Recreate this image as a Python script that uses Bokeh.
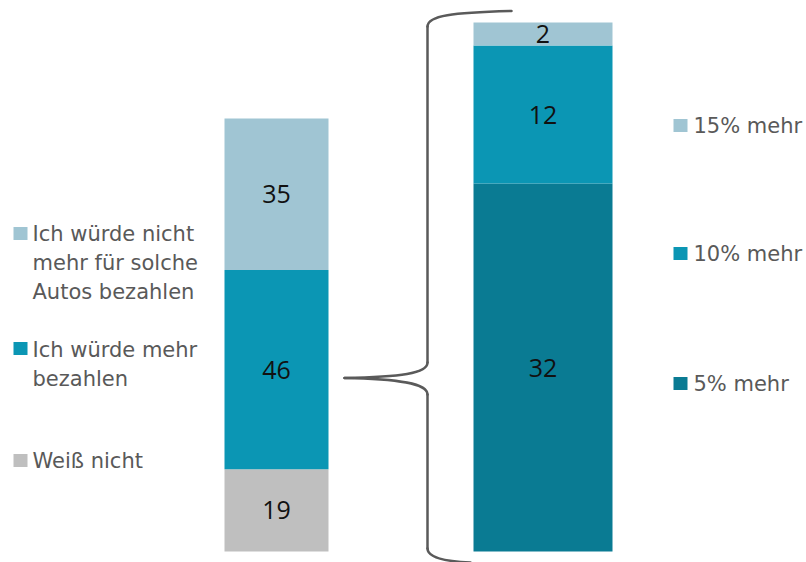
from bokeh.plotting import figure
from bokeh.models import Range1d, ColumnDataSource
from bokeh.embed import file_html
from bokeh.resources import INLINE
from bokeh.core.properties import value

# ---------------- data ----------------
main_labels = ["Weiß nicht", "Ich würde mehr\nbezahlen", "Ich würde nicht\nmehr für solche\nAutos bezahlen"]
main_values = [19, 46, 35]
main_colors = ["#BFBFBF", "#0B96B4", "#A0C5D3"]

detail_labels = ["5% mehr", "10% mehr", "15% mehr"]
detail_values = [32, 12, 2]
detail_colors = ["#0A7B93", "#0B96B4", "#A0C5D3"]

# ---------------- layout ----------------
W, H = 806, 562
OFF = 0
FRAME_BOTTOM = OFF + H
BASE_PX = 551
LEFT_TOP_PX = 118
RIGHT_TOP_PX = 22
TEXT_COLOR = "#595959"
LEG_FONT = value("DejaVu Sans")
NUM_FONT = value("Open Sans")


def data_range(total, top_px):
    k = (BASE_PX - top_px) / total
    start = -(FRAME_BOTTOM - BASE_PX) / k
    return Range1d(start, start + H / k)


p = figure(width=W, height=H, output_backend="svg", toolbar_location=None,
           x_range=Range1d(OFF, OFF + W), y_range=data_range(sum(main_values), LEFT_TOP_PX),
           x_axis_location=None, y_axis_location=None, min_border=0)
p.extra_y_ranges = {"right": data_range(sum(detail_values), RIGHT_TOP_PX),
                    "px": Range1d(FRAME_BOTTOM, OFF)}
p.grid.visible = False
p.outline_line_color = None
p.background_fill_color = "white"


def stack(vals):
    b, t, acc = [], [], 0
    for v in vals:
        b.append(acc)
        acc += v
        t.append(acc)
    return b, t


# left bar
lb, lt = stack(main_values)
lsrc = ColumnDataSource(dict(bottom=lb, top=lt, color=main_colors,
                             mid=[(a + c) / 2 for a, c in zip(lb, lt)],
                             txt=[str(v) for v in main_values]))
p.vbar(x=276, width=104, bottom="bottom", top="top", fill_color="color",
       line_color=None, source=lsrc)
p.text(x=276, y="mid", text="txt", source=lsrc, text_align="center",
       text_baseline="middle", text_font=NUM_FONT, text_font_size="25px", text_color="#111111")

# right bar
rb, rt = stack(detail_values)
rsrc = ColumnDataSource(dict(bottom=rb, top=rt, color=detail_colors,
                             mid=[(a + c) / 2 for a, c in zip(rb, rt)],
                             txt=[str(v) for v in detail_values]))
p.vbar(x=542.5, width=139, bottom="bottom", top="top", fill_color="color",
       line_color=None, source=rsrc, y_range_name="right")
p.text(x=542.5, y="mid", text="txt", source=rsrc, text_align="center",
       text_baseline="middle", text_font=NUM_FONT, text_font_size="25px",
       text_color="#111111", y_range_name="right")

# brace
BR = dict(line_color="#5A5A5A", line_width=2.5, line_cap="round", y_range_name="px")
p.bezier(x0=[511, 427, 344, 427], y0=[10.5, 362, 377.5, 548],
         x1=[427, 344, 427, 470], y1=[26, 377.5, 394, 562],
         cx0=[452, 427, 400, 427], cy0=[12, 373, 378.5, 557],
         cx1=[427, 400, 427, 445], cy1=[15, 376.5, 383, 561], **BR)
p.segment(x0=[427, 427], y0=[26, 394], x1=[427, 427], y1=[362, 548], **BR)

# left legend (top to bottom)
LINE_H = 29
left_sq_y = [460, 348, 233]
left_base_y = [460, 349, 233]
p.rect(x=20, y=left_sq_y, width=14, height=13, fill_color=main_colors,
       line_color=None, y_range_name="px")
lx, ly, ltxt = [], [], []
for lab, by in zip(main_labels, left_base_y):
    for i, line in enumerate(lab.split("\n")):
        lx.append(32)
        ly.append(by + i * LINE_H)
        ltxt.append(line)
p.text(x=lx, y=ly, text=ltxt, text_font=LEG_FONT, text_font_size="21px",
       text_color=TEXT_COLOR, text_baseline="alphabetic", y_range_name="px")

# right legend
right_sq_y = [383, 253, 125]
p.rect(x=680, y=right_sq_y, width=14, height=13, fill_color=detail_colors,
       line_color=None, y_range_name="px")
p.text(x=693, y=right_sq_y, text=detail_labels, text_font=LEG_FONT,
       text_font_size="21px", text_color=TEXT_COLOR, text_baseline="alphabetic",
       y_range_name="px")

open("out.html", "w").write(file_html(p, INLINE))
